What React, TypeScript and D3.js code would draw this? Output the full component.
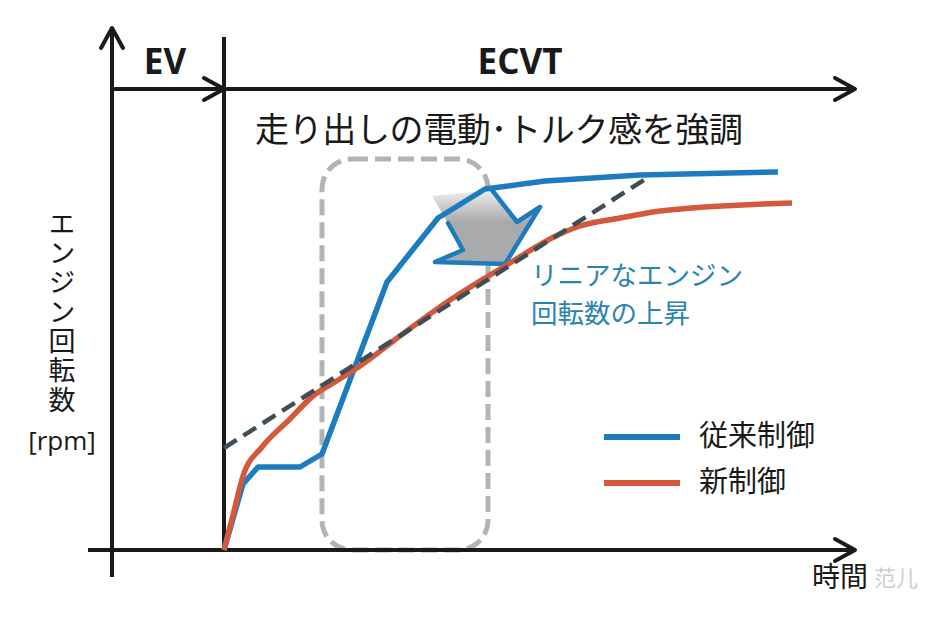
import React from "react";
import * as d3 from "d3";

// ---- Data (time units 0..100, rpm units 0..100) ----
const conventionalT = [0, 3.17, 5.67, 12.67, 16.33, 27.17, 35.67, 43.5, 53.5, 69.33, 92.33];
const conventionalRpm = [0, 16.5, 20.75, 20.75, 24, 67, 83, 90.25, 92.25, 93.75, 94.5];

const newT = [0, 1.5, 3.17, 6.33, 11, 14.83, 18.5, 22.67, 29.33, 37.67, 46.83, 56, 59.33, 66, 72.67, 94.67];
const newRpm = [0, 8.75, 18.5, 25.75, 32.75, 38.5, 42, 46, 53.5, 62.5, 71, 79, 81, 83, 84.75, 86.75];

const linearT = [0, 70.5];
const linearRpm = [25.5, 93];

// highlight box (time range, rpm top)
const boxT = [16.33, 44];
const boxRpm = [0, 97.75];

// annotation arrow outline (time, rpm)
const arrowT = [34.67, 44.67, 48.83, 52.67, 46.83, 35.17, 39.83, 37.33];
const arrowRpm = [88.5, 90, 82, 85.75, 71.5, 72, 75, 81.75];
const arrowOutlineIdx = [7, 6, 5, 4, 3, 2, 1];

const seriesNames = ["従来制御", "新制御"];
const seriesColors = ["#1d7cbd", "#d4583c"];
const title = "走り出しの電動･トルク感を強調";
const yLabel = "エンジン回転数";
const yUnit = "[rpm]";
const annotationLines = ["リニアなエンジン", "回転数の上昇"];
const phaseLabels = ["EV", "ECVT"];
const xLabel = "時間";
const watermark = "范儿";

const W = 942;
const H = 628;

export default function App() {
  const x = d3.scaleLinear().domain([0, 100]).range([224, 824]);
  const y = d3.scaleLinear().domain([0, 100]).range([550, 150]);

  const line = d3
    .line<[number, number]>()
    .x((d) => x(d[0]))
    .y((d) => y(d[1]));
  const smooth = d3
    .line<[number, number]>()
    .x((d) => x(d[0]))
    .y((d) => y(d[1]))
    .curve(d3.curveMonotoneX);

  const conv: [number, number][] = conventionalT.map((t, i) => [t, conventionalRpm[i]]);
  const neu: [number, number][] = newT.map((t, i) => [t, newRpm[i]]);
  const lin: [number, number][] = linearT.map((t, i) => [t, linearRpm[i]]);
  const arrowPts: [number, number][] = arrowT.map((t, i) => [t, arrowRpm[i]]);
  const arrowOutline: [number, number][] = arrowOutlineIdx.map((i) => arrowPts[i]);

  const axisColor = "#1a1a1a";
  const axisW = 4;
  const cjk = "'Noto Sans CJK JP', 'Noto Sans', sans-serif";
  const latin = "'Open Sans', 'Noto Sans', sans-serif";

  const xAxisY = y(0);
  const yAxisX = 112;
  const xEnd = 855;
  const topY = 89;
  const divX = x(0);

  const chevronRight = (tx: number, ty: number) =>
    `M${tx - 20},${ty - 11} L${tx},${ty} L${tx - 20},${ty + 11}`;
  const chevronUp = (tx: number, ty: number) =>
    `M${tx - 11},${ty + 20} L${tx},${ty} L${tx + 11},${ty + 20}`;

  const bx0 = x(boxT[0]);
  const bx1 = x(boxT[1]);
  const by0 = y(boxRpm[1]);
  const by1 = y(boxRpm[0]);

  return (
    <svg
      width={W}
      height={H}
      viewBox={`0 0 ${W} ${H}`}
      style={{ position: "absolute", left: 0, top: 0, background: "#fff" }}
    >
      <defs>
        <linearGradient id="arrowGrad" gradientUnits="userSpaceOnUse" x1="0" y1={y(92)} x2="0" y2={y(82)}>
          <stop offset="0" stopColor="#ffffff" />
          <stop offset="1" stopColor="#a9aaac" />
        </linearGradient>
      </defs>
      <rect x={0} y={0} width={W} height={H} fill="#fff" />

      {/* highlight box */}
      <rect
        x={bx0}
        y={by0}
        width={bx1 - bx0}
        height={by1 - by0}
        rx={30}
        ry={30}
        fill="none"
        stroke="#b3b3b3"
        strokeWidth={5}
        strokeDasharray="16 7"
      />

      {/* axes */}
      <g stroke={axisColor} strokeWidth={axisW} fill="none" strokeLinecap="round" strokeLinejoin="round">
        <line x1={yAxisX} y1={577} x2={yAxisX} y2={29} strokeLinecap="butt" />
        <path d={chevronUp(yAxisX, 28)} />
        <line x1={88} y1={xAxisY} x2={xEnd} y2={xAxisY} strokeLinecap="butt" />
        <path d={chevronRight(xEnd, xAxisY)} />
        <line x1={divX} y1={37} x2={divX} y2={xAxisY} strokeLinecap="butt" />
        <line x1={yAxisX} y1={topY} x2={xEnd} y2={topY} strokeLinecap="butt" />
        <path d={chevronRight(divX, topY)} />
        <path d={chevronRight(xEnd, topY)} />
      </g>

      {/* phase labels */}
      <text x={165} y={74} textAnchor="middle" fontFamily={latin} fontWeight={700} fontSize={35} fill="#1a1a1a">
        {phaseLabels[0]}
      </text>
      <text x={520} y={74} textAnchor="middle" fontFamily={latin} fontWeight={700} fontSize={35} fill="#1a1a1a">
        {phaseLabels[1]}
      </text>

      {/* title */}
      <text x={255} y={142} fontFamily={cjk} fontSize={34} fill="#1a1a1a" textLength={488} lengthAdjust="spacing">
        {title}
      </text>

      {/* arrow annotation */}
      <polygon points={arrowPts.map((p) => `${x(p[0])},${y(p[1])}`).join(" ")} fill="url(#arrowGrad)" />
      <path
        d={line(arrowOutline) || ""}
        fill="none"
        stroke="#1d7cbd"
        strokeWidth={4.5}
        strokeLinejoin="round"
        strokeLinecap="round"
      />

      {/* series */}
      <path d={line(conv) || ""} fill="none" stroke={seriesColors[0]} strokeWidth={5.5} strokeLinejoin="round" />
      <path d={smooth(neu) || ""} fill="none" stroke={seriesColors[1]} strokeWidth={5.5} strokeLinejoin="round" />
      <path
        d={line(lin) || ""}
        fill="none"
        stroke="#3f4e56"
        strokeWidth={4.5}
        strokeDasharray="15 8"
      />

      {/* annotation text */}
      {annotationLines.map((s, i) => (
        <text key={s} x={531} y={285 + i * 38} fontFamily={cjk} fontSize={26.5} fill="#2b84b0">
          {s}
        </text>
      ))}

      {/* legend */}
      {seriesNames.map((s, i) => (
        <g key={s}>
          <line x1={604} x2={680} y1={437 + i * 46} y2={437 + i * 46} stroke={seriesColors[i]} strokeWidth={6} />
          <text x={699} y={446 + i * 46} fontFamily={cjk} fontSize={29} fill="#1a1a1a">
            {s}
          </text>
        </g>
      ))}

      {/* y label (vertical) */}
      <text
        x={62}
        y={210}
        fontFamily={cjk}
        fontSize={27}
        letterSpacing={2.3}
        fill="#1a1a1a"
        style={{ writingMode: "vertical-rl" } as React.CSSProperties}
      >
        {yLabel}
      </text>
      <text x={62} y={450} textAnchor="middle" fontFamily={latin} fontSize={26} fill="#1a1a1a">
        {yUnit}
      </text>

      {/* watermark + x label */}
      <text x={874} y={586} fontFamily={cjk} fontSize={22} fill="#cfcfcf">
        {watermark}
      </text>
      <text x={812} y={587} fontFamily={cjk} fontSize={28} fill="#1a1a1a">
        {xLabel}
      </text>
    </svg>
  );
}
